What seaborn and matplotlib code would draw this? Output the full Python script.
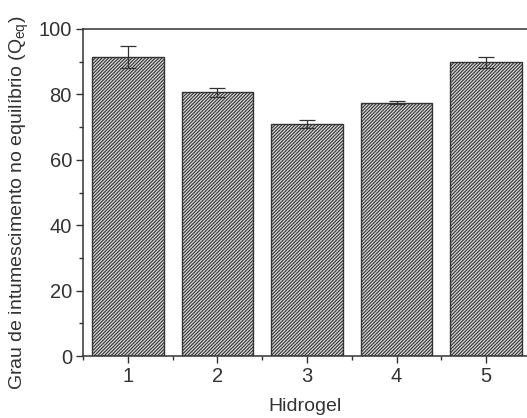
import matplotlib
matplotlib.use("Agg")
import matplotlib.pyplot as plt
import seaborn as sns
import pandas as pd
from matplotlib.ticker import MultipleLocator

hidrogel = [1, 2, 3, 4, 5]
qeq = [91.5, 80.7, 70.9, 77.5, 89.8]
erro = [3.4, 1.4, 1.2, 0.4, 1.6]

sns.set_style("ticks")
plt.rcParams['font.family'] = ['Liberation Sans', 'DejaVu Sans']
plt.rcParams['hatch.linewidth'] = 0.8
plt.rcParams['hatch.color'] = '#404040'

df = pd.DataFrame({"Hidrogel": hidrogel, "Qeq": qeq})

fig = plt.figure(figsize=(5.27, 4.18), dpi=100)
ax = fig.add_axes([83/527, 62/418, 444/527, 327/418])

sns.barplot(data=df, x="Hidrogel", y="Qeq", native_scale=True, width=0.8,
            color="#d8d8d8", edgecolor="#333333", linewidth=1.0, hatch="//////////",
            ax=ax, errorbar=None)
ax.errorbar(hidrogel, qeq, yerr=erro, fmt="none", ecolor="#333333",
            elinewidth=0.9, capsize=5.5, capthick=0.9)

ax.set_xlim(0.5, 0.5 + 444/89.6)
ax.set_ylim(0, 100)
ax.set_xticks(hidrogel)
ax.set_xticklabels([str(h) for h in hidrogel])
ax.xaxis.set_minor_locator(MultipleLocator(0.5))
ax.yaxis.set_major_locator(MultipleLocator(20))
ax.yaxis.set_minor_locator(MultipleLocator(10))
ax.tick_params(which="major", direction="out", length=5, width=1, colors="#333333",
               labelsize=14.5, labelcolor="#333333", pad=3)
ax.tick_params(which="minor", direction="out", length=3, width=1, colors="#333333")
for s in ["left", "bottom", "top"]:
    ax.spines[s].set_visible(True)
    ax.spines[s].set_color("#333333")
    ax.spines[s].set_linewidth(1.1)
ax.spines["right"].set_visible(False)

ax.set_xlabel("Hidrogel", fontsize=14, color="#333333")
ax.xaxis.set_label_coords(0.5, -0.128)
ax.set_ylabel("Grau de intumescimento no equilíbrio (Q$_{\\mathregular{eq}}$)",
              fontsize=14, color="#333333")
ax.yaxis.set_label_coords(-0.118, 0.47)

fig.savefig("out.png", dpi=100)
